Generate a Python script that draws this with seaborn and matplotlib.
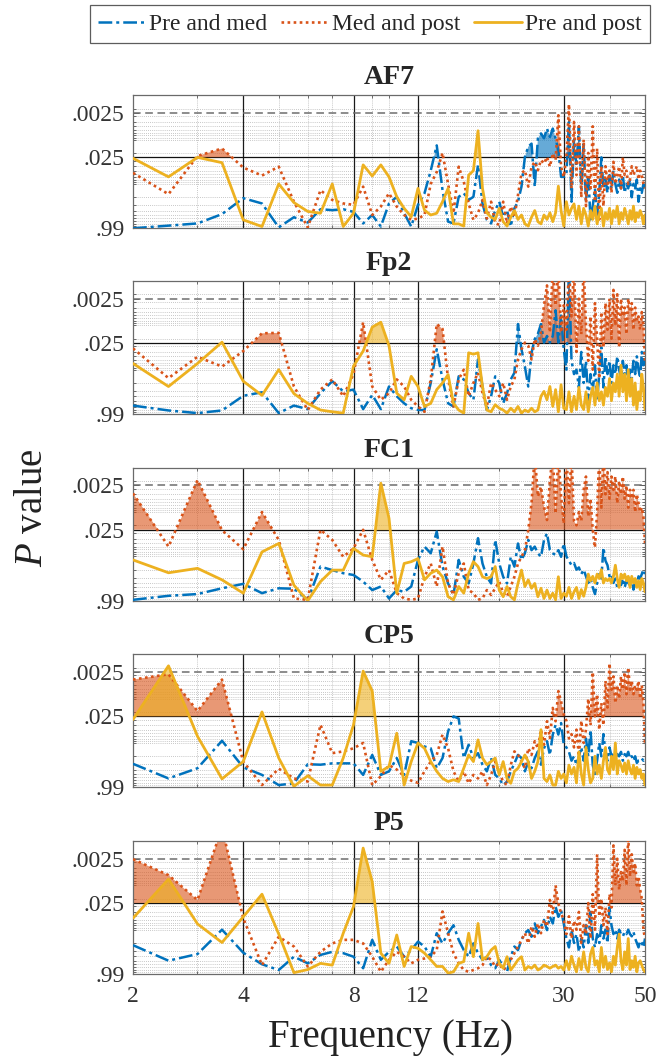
import numpy as np
import matplotlib
matplotlib.use("Agg")
import matplotlib.pyplot as plt
import seaborn as sns
from matplotlib.lines import Line2D
from matplotlib.ticker import NullFormatter

# Frequency bins (Hz), 0.5 Hz resolution
freq = np.arange(2.0, 50.01, 0.5)

# Significance expressed as -log10(p) for each channel and comparison
af7_pre_med = [
    0.00, 0.06, 0.11, 0.32, 0.68, 0.56, 0.02, 0.25, 0.13, 0.43,
    0.41, 0.43, 0.37, 0.11, 0.30, 0.04, 0.56, 0.71, 0.34, 0.04, 0.53,
    0.79, 1.30, 1.87, 0.86, 0.15, 0.11, 0.71, 0.79, 0.64, 0.71, 1.43, 0.56, 0.19, 0.11, 0.41, 0.60,
    0.26, 0.41, 0.04, 0.45, 0.60, 0.94, 1.61, 1.84, 1.91, 0.94, 2.03, 2.14, 2.03, 2.25, 2.06, 2.25, 2.03, 1.76, 1.16, 1.16,
    1.2, 2.4, 0.6, 2.0, 1.4, 2.3, 0.9, 1.9, 0.6, 1.2, 0.2, 0.5, 0.9, 0.3, 0.8, 1.6, 0.9, 1.1, 0.8, 1.2,
    0.9, 1.3, 1.0, 0.8, 1.1, 0.9, 1.2, 0.8, 1.0, 0.9, 1.1, 0.7, 1.0, 0.9, 1.1, 0.6, 0.9, 0.8, 1.0, 0.9]
af7_med_post = [
    1.25, 0.77, 1.63, 1.80, 1.37, 1.19, 1.39, 0.60, 0.02, 0.86,
    0.64, 0.56, 0.53, 0.94, 0.30, 0.49, 0.79, 0.49, 0.30, 0.19, 0.22,
    0.30, 1.00, 1.27, 1.70, 1.00, 0.34, 1.39, 1.05, 0.56, 0.19, 0.34, 0.64, 0.22, 0.60, 0.11, 0.08,
    0.60, 0.11, 0.49, 0.26, 0.75, 1.24, 1.31, 0.94, 1.39, 1.50, 1.31, 1.54, 1.46, 1.61, 1.39, 1.69, 1.54, 2.55, 1.39, 1.16,
    1.6, 2.8, 0.9, 2.4, 1.2, 2.3, 0.7, 2.0, 0.5, 1.7, 0.9, 2.3, 0.6, 1.8, 0.2, 1.4, 0.5, 1.4, 1.0, 1.3,
    0.8, 1.5, 1.0, 1.2, 1.4, 0.9, 1.6, 1.2, 1.3, 1.0, 1.1, 1.4, 1.2, 1.3, 1.4, 1.1, 1.3, 1.2, 1.0, 0.9]
af7_pre_post = [
    1.58, 1.16, 1.60, 1.48, 0.19, 0.04, 1.00, 0.58, 0.38, 0.34,
    1.00, 0.04, 0.34, 1.43, 1.18, 1.43, 1.16, 0.71, 0.45, 0.26, 0.90,
    0.41, 0.30, 0.34, 0.60, 0.90, 0.10, 0.10, 0.05, 1.20, 1.30, 2.20, 0.90, 0.35, 0.25, 0.20, 0.45,
    0.15, 0.05, 0.25, 0.40, 0.20, 0.30, 0.10, 0.05, 0.25, 0.40, 0.15, 0.10, 0.30, 0.20, 0.35, 0.15, 0.35, 0.95, 0.40, 0.05,
    0.6, 0.3, 0.45, 0.55, 0.2, 0.5, 0.1, 0.45, 0.3, 0.05, 0.4, 0.2, 0.5, 0.1, 0.3, 0.45, 0.05, 0.35, 0.2, 0.45,
    0.1, 0.4, 0.25, 0.5, 0.1, 0.35, 0.2, 0.45, 0.3, 0.1, 0.4, 0.2, 0.5, 0.15, 0.35, 0.25, 0.4, 0.3, 0.1, 0.3]

fp2_pre_med = [
    0.19, 0.08, 0.02, 0.08, 0.41, 0.49, 0.02, 0.19, 0.11, 0.47,
    0.74, 0.51, 0.55, 0.11, 0.43, 0.11, 0.62, 0.40, 0.24, 0.13, 0.09,
    0.09, 0.70, 1.46, 0.78, 0.24, 0.17, 0.85, 0.78, 0.47, 0.32, 1.23, 0.62, 0.09, 0.40, 0.85, 0.70,
    0.24, 0.47, 0.78, 0.93, 2.03, 1.46, 1.07, 0.62, 1.38, 1.69, 1.81, 2.03, 1.61, 1.76, 1.61, 1.76, 2.34, 1.61, 2.22, 1.46,
    1.0, 3.3, 1.2, 0.9, 1.0, 0.6, 1.4, 0.7, 1.2, 0.3, 0.9, 0.5, 1.1, 0.3, 0.9, 1.5, 0.6, 1.3, 0.9, 1.2,
    0.7, 1.1, 0.9, 1.3, 1.0, 0.8, 1.2, 0.9, 1.1, 0.7, 1.0, 0.8, 1.2, 0.9, 1.3, 1.0, 0.8, 1.4, 1.1, 1.5]
fp2_med_post = [
    1.48, 0.81, 1.29, 1.07, 1.42, 1.82, 1.83, 0.62, 0.09, 0.55,
    0.78, 0.40, 0.90, 2.07, 0.62, 0.32, 0.47, 0.78, 0.62, 0.32, 0.17,
    0.05, 0.78, 2.03, 1.92, 0.78, 0.17, 0.78, 1.00, 0.40, 0.70, 0.93, 0.47, 0.17, 0.70, 0.55, 0.40,
    0.70, 0.32, 0.62, 0.78, 1.23, 1.46, 1.61, 1.54, 1.23, 1.69, 1.54, 1.84, 2.45, 2.90, 1.84, 3.30, 2.45, 3.30, 1.84, 2.45,
    1.9, 3.3, 2.2, 3.3, 1.4, 2.6, 1.8, 3.3, 2.0, 1.2, 2.2, 1.0, 2.5, 1.7, 0.8, 2.3, 1.5, 2.5, 1.9, 2.6,
    1.7, 2.8, 2.0, 2.7, 1.5, 2.6, 2.2, 2.4, 1.8, 2.6, 2.3, 2.5, 1.9, 2.4, 2.1, 2.2, 1.9, 2.3, 2.0, 1.2]
fp2_pre_post = [
    1.14, 0.62, 1.14, 1.62, 0.74, 0.42, 1.00, 0.46, 0.24, 0.09,
    0.05, 0.02, 1.08, 1.42, 1.96, 2.07, 1.54, 0.47, 0.32, 0.85, 0.62,
    0.17, 0.24, 0.55, 0.70, 0.89, 0.24, 0.09, 0.02, 1.38, 1.35, 1.38, 0.62, 0.09, 0.05, 0.21, 0.13,
    0.09, 0.02, 0.13, 0.05, 0.17, 0.02, 0.09, 0.05, 0.13, 0.05, 0.09, 0.40, 0.51, 0.32, 0.62, 0.17, 0.55, 0.05, 0.66, 0.13,
    0.1, 0.5, 0.05, 0.4, 0.1, 0.6, 0.2, 0.1, 0.5, 0.05, 0.4, 0.6, 0.2, 0.7, 0.3, 0.5, 0.2, 0.6, 0.4, 0.8,
    0.3, 0.7, 0.5, 0.9, 0.4, 1.1, 0.5, 0.9, 0.3, 1.0, 0.4, 0.8, 0.2, 0.7, 0.1, 0.5, 0.3, 0.9, 0.6, 0.1]

fc1_pre_med = [
    0.02, 0.11, 0.15, 0.28, 0.38, 0.17, 0.28, 0.27, 0.02, 0.77,
    0.69, 0.62, 0.58, 0.43, 0.24, 0.32, 0.05, 0.24, 0.20, 0.32, 0.92,
    1.22, 1.07, 1.56, 0.77, 0.39, 0.13, 0.92, 0.54, 0.39, 0.84, 1.41, 0.84, 0.54, 0.39, 1.37, 0.84,
    0.54, 0.39, 0.99, 0.77, 1.29, 0.92, 1.07, 1.37, 1.14, 1.22, 1.07, 0.99, 1.37, 1.52, 1.14, 1.07, 1.03, 1.14, 0.99, 1.29,
    1.0, 0.9, 0.8, 0.85, 0.7, 0.75, 0.6, 0.7, 0.55, 0.4, 0.5, 0.3, 0.15, 0.4, 0.6, 0.5, 1.2, 0.9, 0.8, 0.55,
    0.6, 0.4, 0.5, 0.3, 0.45, 0.35, 0.5, 0.3, 0.45, 0.4, 0.35, 0.5, 0.25, 0.4, 0.3, 0.55, 0.5, 0.6, 0.7, 0.6]
fc1_med_post = [
    2.42, 1.22, 2.72, 1.59, 1.16, 2.00, 1.37, 0.05, 0.02, 1.60,
    1.37, 0.99, 1.18, 1.60, 0.92, 0.47, 0.69, 0.17, 0.05, 0.02, 0.05,
    0.54, 0.84, 0.32, 1.22, 0.39, 0.13, 0.62, 0.84, 0.24, 0.17, 0.02, 0.05, 0.24, 0.13, 0.28, 0.43,
    0.17, 0.09, 0.32, 0.54, 0.84, 0.99, 1.14, 1.59, 2.20, 3.30, 2.35, 2.57, 2.12, 1.82, 2.72, 3.30, 1.97, 3.30, 2.35, 1.74,
    3.3, 2.2, 3.3, 1.8, 1.7, 2.0, 1.8, 2.5, 2.8, 1.9, 2.3, 1.6, 1.2, 2.0, 3.3, 2.1, 3.3, 2.4, 2.9, 2.3,
    2.8, 2.5, 2.8, 2.2, 2.7, 2.4, 2.8, 2.3, 2.6, 2.1, 2.5, 2.3, 2.5, 2.0, 2.4, 2.2, 2.0, 2.1, 1.9, 1.3]
fc1_pre_post = [
    0.92, 0.63, 0.73, 0.47, 0.17, 1.10, 1.29, 0.35, 0.00, 0.43,
    0.69, 0.69, 1.18, 1.03, 0.99, 2.65, 1.86, 0.17, 0.84, 0.88, 0.95,
    0.47, 0.62, 0.69, 0.54, 0.09, 0.02, 0.32, 0.17, 0.62, 0.88, 0.77, 0.54, 0.50, 0.54, 0.77, 0.24,
    0.09, 0.32, 0.09, 0.02, 0.39, 0.69, 0.32, 0.47, 0.28, 0.39, 0.09, 0.28, 0.05, 0.24, 0.05, 0.17, 0.02, 0.54, 0.05, 0.17,
    0.1, 0.3, 0.05, 0.2, 0.3, 0.05, 0.25, 0.1, 0.3, 0.6, 0.45, 0.55, 0.4, 0.6, 0.5, 0.7, 0.4, 0.5, 0.45, 0.5,
    0.4, 0.55, 0.8, 0.5, 0.3, 0.6, 0.5, 0.6, 0.45, 0.55, 0.3, 0.55, 0.4, 0.5, 0.3, 0.45, 0.25, 0.5, 0.4, 0.2]

cp5_pre_med = [
    0.53, 0.20, 0.43, 1.05, 0.45, 0.28, 0.05, 0.09, 0.52, 0.51,
    0.54, 0.54, 0.54, 0.28, 0.73, 0.28, 0.36, 0.66, 0.28, 1.04, 1.00,
    0.92, 0.88, 0.43, 0.66, 1.26, 1.60, 1.55, 0.66, 0.96, 0.66, 0.77, 0.51, 0.36, 0.66, 0.28, 0.20,
    0.05, 0.13, 0.36, 0.54, 0.73, 0.66, 0.36, 0.58, 0.43, 0.66, 0.81, 0.51, 0.88, 1.04, 0.73, 1.19, 1.41, 1.19, 1.45, 0.96,
    0.9, 0.8, 0.6, 0.7, 0.5, 0.7, 0.9, 0.6, 1.1, 0.7, 1.3, 0.5, 0.3, 0.6, 1.0, 0.7, 1.2, 0.8, 0.6, 0.9,
    0.7, 0.8, 0.65, 0.75, 0.7, 0.8, 0.6, 0.75, 0.7, 0.8, 0.65, 0.7, 0.6, 0.7, 0.55, 0.6, 0.6, 0.65, 0.6, 0.65]
cp5_med_post = [
    2.43, 2.55, 1.72, 2.43, 0.58, 0.05, 0.42, 0.20, 0.13, 1.41,
    0.77, 0.81, 0.88, 1.00, 0.05, 0.25, 0.50, 0.40, 0.25, 0.15, 0.10,
    0.36, 0.58, 0.73, 1.19, 0.88, 0.36, 0.13, 0.36, 0.09, 0.28, 0.20, 0.36, 0.05, 0.28, 0.58, 0.32,
    0.13, 0.05, 0.50, 0.81, 0.73, 0.58, 0.43, 0.88, 0.73, 1.04, 0.88, 1.30, 0.96, 1.49, 1.11, 1.79, 1.49, 2.17, 1.94, 1.64,
    1.5, 1.1, 1.2, 0.9, 1.3, 0.7, 1.5, 1.0, 1.3, 2.0, 1.4, 2.6, 1.6, 2.1, 1.3, 1.9, 1.4, 2.4, 1.8, 2.8,
    2.2, 2.5, 1.9, 2.3, 2.0, 2.5, 2.2, 2.6, 2.1, 2.7, 2.2, 2.4, 2.1, 2.3, 2.2, 2.4, 2.0, 2.3, 1.9, 1.0]
cp5_pre_post = [
    1.53, 2.74, 1.15, 0.19, 0.58, 1.70, 0.66, 0.02, 0.26, 0.05,
    0.05, 0.66, 1.41, 2.62, 2.17, 0.36, 0.47, 1.22, 0.05, 0.58, 1.00,
    0.88, 0.58, 0.36, 0.20, 0.13, 0.17, 0.13, 0.43, 0.73, 0.58, 1.07, 0.66, 0.51, 0.58, 0.66, 0.28,
    0.58, 0.20, 0.09, 0.36, 0.43, 0.58, 0.73, 0.58, 0.20, 0.36, 0.58, 1.30, 0.20, 0.13, 0.28, 0.05, 0.05, 0.36, 0.20, 0.30,
    0.1, 0.5, 0.3, 0.45, 0.1, 0.8, 0.3, 0.05, 0.9, 0.4, 0.1, 0.2, 0.7, 0.3, 0.5, 0.2, 0.6, 0.9, 0.4, 0.3,
    0.7, 0.4, 1.0, 0.3, 0.6, 0.5, 0.35, 0.55, 0.3, 0.6, 0.4, 0.3, 0.5, 0.2, 0.45, 0.3, 0.4, 0.2, 0.3, 0.05]

p5_pre_med = [
    0.65, 0.30, 0.45, 1.00, 0.48, 0.22, 0.09, 0.39, 0.24, 0.43,
    0.50, 0.47, 0.39, 0.13, 0.77, 0.32, 0.50, 0.62, 0.39, 0.54, 0.73,
    0.62, 0.39, 0.92, 0.69, 0.92, 1.10, 0.77, 0.54, 0.39, 0.69, 0.47, 0.32, 0.39, 0.20, 0.13, 0.32,
    0.17, 0.05, 0.39, 0.62, 0.54, 0.77, 0.92, 0.99, 0.84, 1.14, 0.92, 1.07, 1.22, 0.99, 1.29, 1.14, 1.52, 1.29, 1.44, 1.14,
    0.8, 0.6, 1.0, 0.7, 0.9, 0.5, 0.8, 0.6, 1.1, 0.7, 1.4, 0.8, 0.6, 0.9, 0.7, 1.1, 0.8, 1.0, 0.7, 1.5,
    1.1, 0.9, 1.0, 0.8, 1.0, 0.9, 0.85, 0.95, 0.9, 1.0, 0.9, 0.85, 0.95, 0.8, 0.7, 0.6, 0.75, 0.7, 0.6, 0.8]
p5_med_post = [
    2.59, 2.23, 1.67, 3.30, 1.26, 0.20, 0.84, 0.62, 0.17, 0.50,
    0.69, 0.77, 0.77, 0.69, 0.39, 0.05, 0.32, 0.50, 0.39, 0.24, 0.32,
    0.35, 0.39, 0.54, 1.41, 0.92, 0.47, 0.24, 0.09, 0.05, 0.09, 0.13, 0.20, 0.39, 0.32, 0.17, 0.24,
    0.09, 0.17, 0.32, 0.47, 0.62, 0.77, 0.92, 0.69, 1.07, 0.84, 1.14, 0.92, 1.22, 1.07, 1.67, 1.37, 2.00, 1.59, 1.37, 1.22,
    0.9, 1.3, 0.8, 1.2, 1.0, 1.4, 0.7, 1.1, 0.9, 1.6, 0.8, 1.8, 1.0, 2.7, 1.3, 1.7, 1.1, 1.5, 0.9, 1.8,
    1.5, 2.9, 2.0, 2.6, 1.9, 2.3, 2.1, 2.8, 2.0, 3.1, 2.2, 2.7, 2.3, 2.5, 2.0, 2.2, 1.9, 1.7, 1.0, 0.8]
p5_pre_post = [
    1.26, 2.14, 1.13, 0.71, 1.29, 1.80, 0.90, 0.03, 0.10, 0.24,
    0.20, 0.92, 1.52, 2.84, 2.08, 0.47, 0.24, 0.88, 0.17, 0.62, 0.58,
    0.47, 0.32, 0.17, 0.17, 0.02, 0.05, 0.24, 0.28, 0.92, 0.39, 1.14, 0.32, 0.39, 0.54, 0.62, 0.24,
    0.13, 0.39, 0.09, 0.20, 0.32, 0.39, 0.09, 0.17, 0.13, 0.20, 0.09, 0.13, 0.20, 0.17, 0.13, 0.17, 0.20, 0.13, 0.17, 0.09,
    0.3, 0.1, 0.4, 0.2, 0.05, 0.35, 0.1, 0.5, 0.15, 0.05, 0.45, 0.6, 0.2, 0.3, 0.05, 0.6, 0.15, 0.4, 0.1, 0.25,
    0.05, 0.4, 0.2, 0.6, 0.9, 0.3, 0.1, 0.5, 0.2, 0.8, 0.1, 0.3, 0.15, 0.4, 0.05, 0.25, 0.3, 0.2, 0.1, 0.05]

channels = ["AF7", "Fp2", "FC1", "CP5", "P5"]
channel_data = {
    "AF7": (af7_pre_med, af7_med_post, af7_pre_post),
    "Fp2": (fp2_pre_med, fp2_med_post, fp2_pre_post),
    "FC1": (fc1_pre_med, fc1_med_post, fc1_pre_post),
    "CP5": (cp5_pre_med, cp5_med_post, cp5_pre_post),
    "P5": (p5_pre_med, p5_med_post, p5_pre_post),
}
series_labels = ["Pre and med", "Med and post", "Pre and post"]

alpha_level = 0.025
strict_level = 0.0025
p_ticks = [0.99, 0.025, 0.0025]
p_tick_labels = [".99", ".025", ".0025"]
freq_ticks = [2, 4, 8, 12, 30, 50]
freq_minor = [3, 5, 6, 7, 9, 10, 20, 40]

# ---- styling ----
colors = ["#0072BD", "#D95319", "#EDB120"]
styles = [(0, (5.5, 1.6, 1.2, 1.6)), (0, (1.0, 1.3)), "-"]
widths = [1.8, 1.9, 2.0]

sns.set_theme(style="white")
plt.rcParams["font.family"] = ["Liberation Serif", "DejaVu Serif"]
plt.rcParams["mathtext.fontset"] = "custom"
plt.rcParams["mathtext.rm"] = "Liberation Serif"
plt.rcParams["mathtext.it"] = "Liberation Serif:italic"

W, H = 662, 1056
fig = plt.figure(figsize=(W / 100, H / 100), dpi=100)

ax_left, ax_right = 133, 645
ax_height = 133
ax_bottoms = [228.3, 414.0, 600.7, 787.3, 974.0]

to_score = lambda p: -np.log10(p)
minor_p = [m * 10.0 ** e for e in (-1, -2, -3) for m in range(1, 10)]
minor_p = [p for p in minor_p if p not in (0.0025,) and 0.001 <= p <= 0.9]
minor_scores = [to_score(p) for p in minor_p]

tick_color = "#333333"
for k, name in enumerate(channels):
    b = ax_bottoms[k]
    ax = fig.add_axes([ax_left / W, 1 - b / H, (ax_right - ax_left) / W, ax_height / H])
    ax.set_xscale("log")
    ax.set_xlim(2, 50)
    ax.set_ylim(0, 3.0)

    ax.set_xticks(freq_ticks)
    ax.set_xticks(freq_minor, minor=True)
    ax.xaxis.set_minor_formatter(NullFormatter())
    ax.set_yticks([to_score(p) for p in p_ticks])
    ax.set_yticklabels(p_tick_labels)
    ax.set_yticks(minor_scores, minor=True)
    ax.grid(False)
    ax.grid(True, which="minor", axis="both", linestyle=(0, (1, 1.5)),
            color="#b5b5b5", linewidth=0.6)
    ax.set_axisbelow(True)

    for fv in [4, 8, 12, 30]:
        ax.axvline(fv, color="#1a1a1a", lw=0.9, zorder=1)
    ax.axhline(to_score(alpha_level), color="#111111", lw=0.9, zorder=1)
    ax.axhline(to_score(strict_level), color="#6e6e6e", lw=1.1,
               ls=(0, (5, 3)), zorder=1)

    thr = to_score(alpha_level)
    for vals, col in zip(channel_data[name], colors):
        v = np.asarray(vals)
        ax.fill_between(freq, thr, v, where=v > thr, interpolate=True,
                        color=col, alpha=0.6, lw=0, zorder=2)
    for vals, col, ls, lw in zip(channel_data[name], colors, styles, widths):
        sns.lineplot(x=freq, y=np.asarray(vals), ax=ax, color=col, lw=lw,
                     linestyle=ls, legend=False, errorbar=None, sort=False,
                     zorder=3)

    ax.set_xlabel("")
    ax.set_ylabel("")
    ax.set_title(name, fontsize=20, fontweight="bold", pad=8)
    ax.tick_params(which="both", direction="in", top=True, right=True,
                   left=True, bottom=True, colors="#555555",
                   labelcolor=tick_color, labelsize=17)
    ax.tick_params(which="major", length=4, width=0.7)
    ax.tick_params(which="minor", length=2.5, width=0.6)
    ax.tick_params(axis="y", pad=6)
    ax.tick_params(axis="x", pad=9)
    if k == len(channels) - 1:
        ax.set_xticklabels([str(t) for t in freq_ticks])
    else:
        ax.tick_params(axis="x", labelbottom=False)
    for s in ax.spines.values():
        s.set_color("#6a6a6a")
        s.set_linewidth(0.9)

handles = [Line2D([0], [0], color=c, ls=s, lw=w)
           for c, s, w in zip(colors, styles, widths)]
leg = fig.legend(handles, series_labels, loc="center",
                 bbox_to_anchor=(370 / W, 1 - 24 / H), ncol=3, fontsize=17,
                 frameon=True, fancybox=False, handlelength=2.0,
                 handletextpad=0.15, columnspacing=0.6, borderpad=0.35,
                 borderaxespad=0)
leg.get_frame().set_edgecolor("#333333")
leg.get_frame().set_linewidth(0.9)

fig.text(32 / W, 1 - 508 / H, r"$P$ value", rotation=90, ha="center",
         va="center", fontsize=28, color="#222222")
fig.text(390 / W, 1 - 1037 / H, "Frequency (Hz)", ha="center", va="center",
         fontsize=28, color="#222222")

fig.savefig("out.png", dpi=100)
